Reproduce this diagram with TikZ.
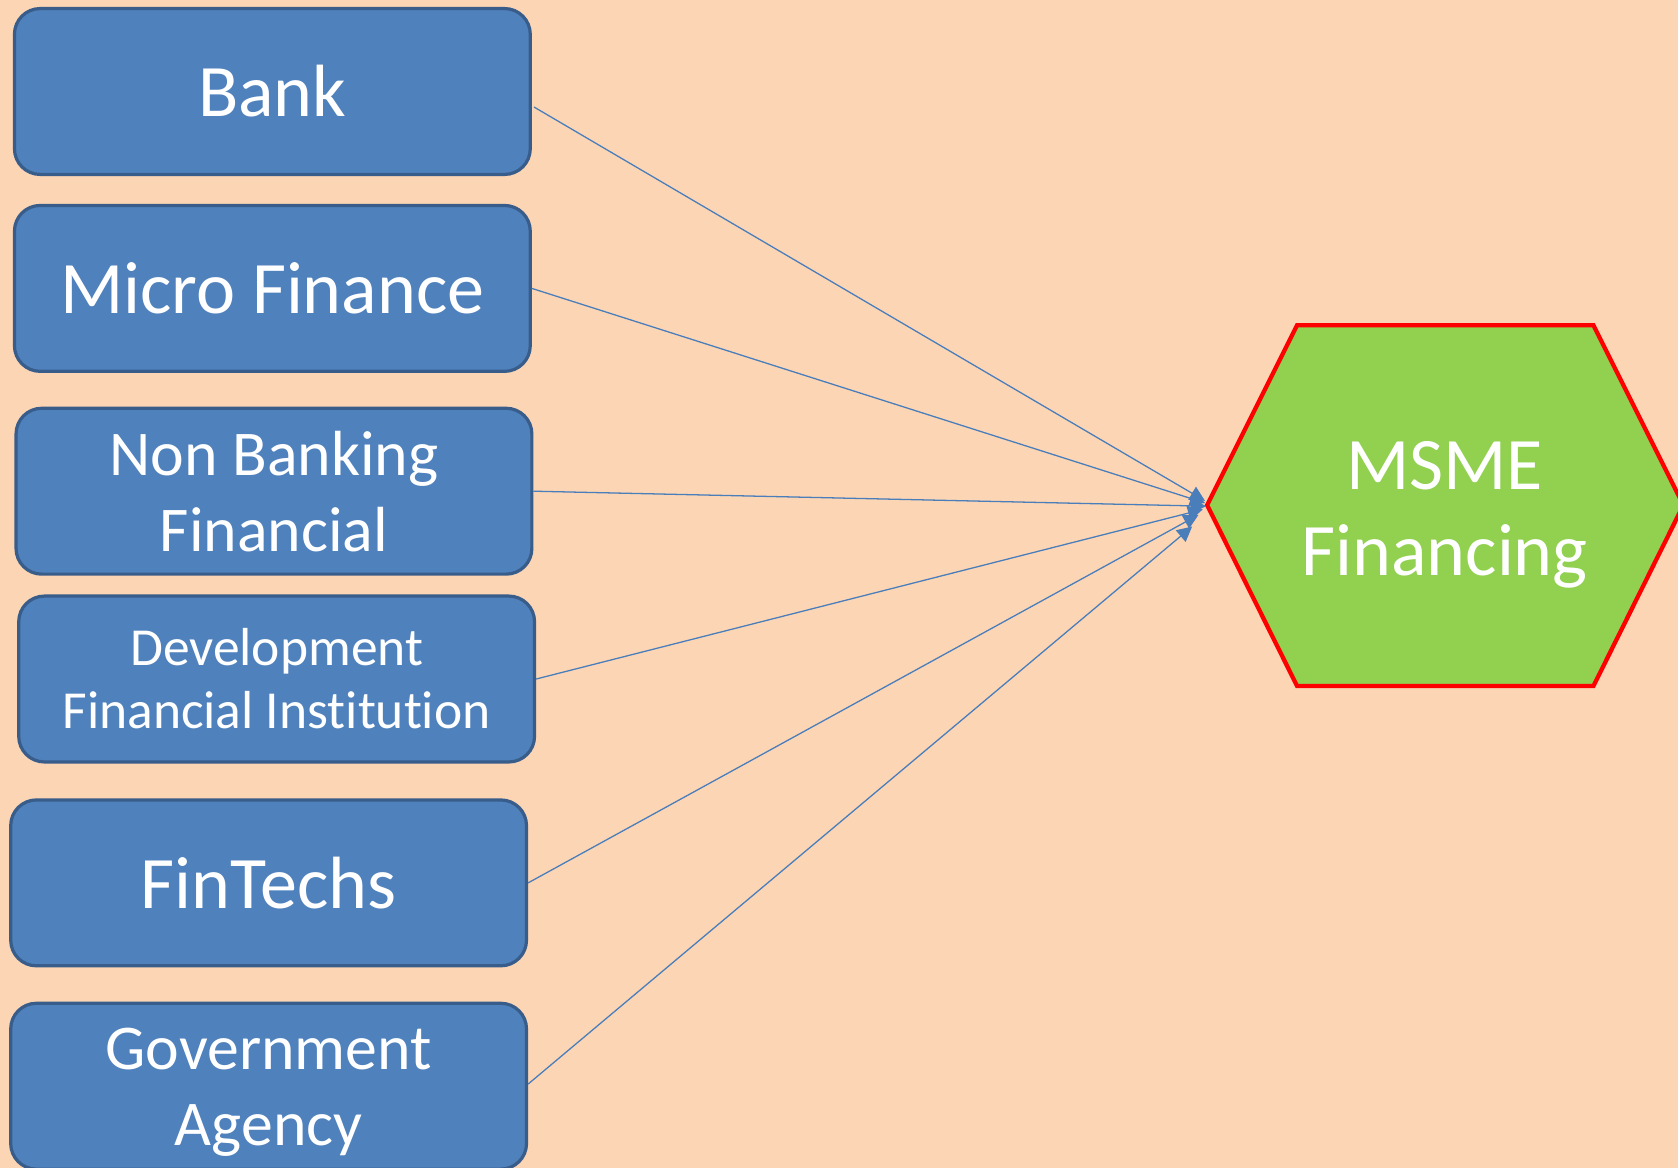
\documentclass[tikz,border=0pt]{standalone}
\usepackage{fontspec}
\setmainfont{Carlito}[Ligatures=NoCommon]
\usetikzlibrary{arrows.meta,calc}
\definecolor{bgpeach}{HTML}{FCD5B4}
\definecolor{boxfill}{HTML}{4F81BD}
\definecolor{boxline}{HTML}{385D8A}
\definecolor{hexfill}{HTML}{92D050}
\definecolor{arrowblue}{HTML}{4A7EBB}
\begin{document}
\begin{tikzpicture}[x=0.5pt,y=-0.5pt,
  srcbox/.style={draw=boxline, fill=boxfill, line width=1.5pt, rounded corners=12pt,
    minimum width=241pt, minimum height=77.5pt, inner sep=0pt, text=white, align=center},
  bigtxt/.style={font=\fontsize{34.6}{42}\selectfont},
  midtxt/.style={font=\fontsize{29.8}{35.5}\selectfont},
  smalltxt/.style={font=\fontsize{25}{29.5}\selectfont},
  feed/.style={draw=arrowblue, line width=0.6pt, -{Triangle[length=7pt,width=7pt]}, fill=arrowblue}
]
\fill[bgpeach] (0,0) rectangle (1568,1091);
\useasboundingbox (0,0) rectangle (1568,1091);

\node[srcbox, bigtxt] (bank) at (254.5,85.5) {Bank};
\node[srcbox, bigtxt] (micro) at (254.5,269.5) {Micro Finance};
\node[srcbox, midtxt] (nbfc) at (256,459) {Non Banking\\Financial};
\node[srcbox, smalltxt] (dfi) at (258.5,634.5) {Development\\Financial Institution};
\node[srcbox, bigtxt] (fintech) at (251,825) {FinTechs};
\node[srcbox] (gov) at (251,1015) {};
\node[midtxt, text=white, align=center, inner sep=0pt] (govtext) at (251,1021) {Government\\Agency};

% hexagon
\coordinate (hl) at (1128,472);
\coordinate (htl) at (1212,304);
\coordinate (htr) at (1489,304);
\coordinate (hr) at (1573,472);
\coordinate (hbr) at (1489,641);
\coordinate (hbl) at (1212,641);
\draw[draw=red, fill=hexfill, line width=2pt] (hl) -- (htl) -- (htr) -- (hr) -- (hbr) -- (hbl) -- cycle;
\node[text=white, align=center, font=\fontsize{34.6}{40}\selectfont] (msme) at (1350,481) {MSME\\Financing};

% arrow ends
\coordinate (e1) at (1126,468);
\coordinate (e2) at (1126,470);
\coordinate (e3) at (1127,473);
\coordinate (e4) at (1124,476);
\coordinate (e5) at (1120,481);
\coordinate (e6) at (1114,492);

\draw[feed] ($(bank.east)+(2,14.5)$) -- (e1);
\draw[feed] (micro.east) -- (e2);
\draw[feed] (nbfc.east) -- (e3);
\draw[feed] (dfi.east) -- (e4);
\draw[feed] (fintech.east) -- (e5);
\draw[feed] ($(gov.east)+(0,-2)$) -- (e6);
\end{tikzpicture}
\end{document}
